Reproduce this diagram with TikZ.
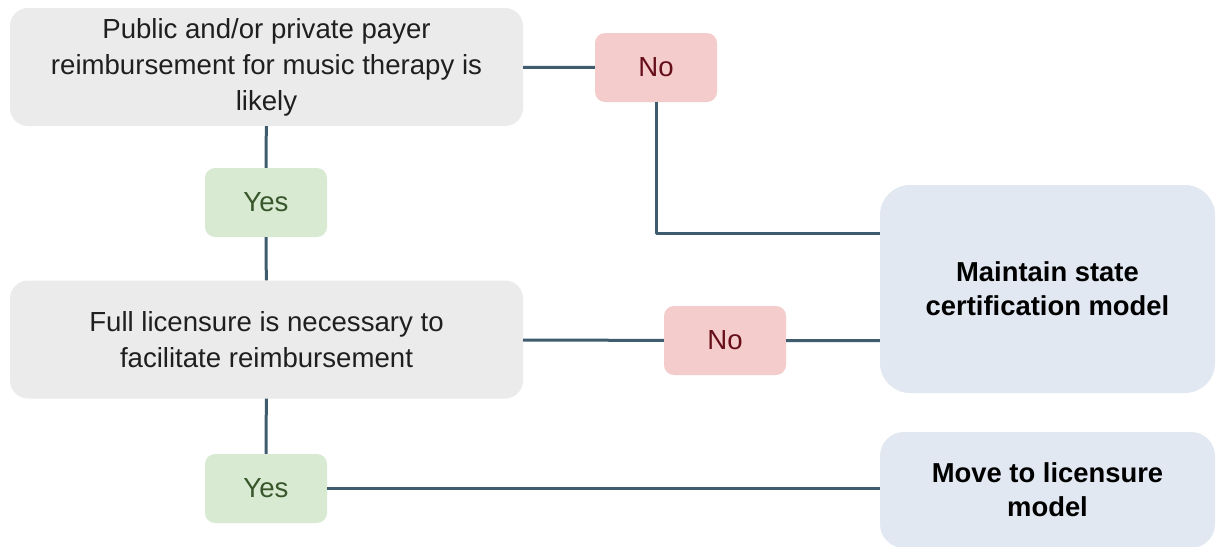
\documentclass[tikz,border=0pt]{standalone}
\usepackage{fontspec}
\setmainfont{Liberation Sans}
\definecolor{condgray}{HTML}{EBEBEB}
\definecolor{yesfill}{HTML}{D9EAD3}
\definecolor{yestext}{HTML}{38572A}
\definecolor{nofill}{HTML}{F4CCCC}
\definecolor{notext}{HTML}{660F1A}
\definecolor{resfill}{HTML}{E1E8F1}
\definecolor{linkc}{HTML}{3F5B6E}
\begin{document}
\begin{tikzpicture}[x=1pt,y=-1pt,line join=round,font=\fontsize{27.6}{36}\selectfont,
  cond/.style={fill=condgray,rounded corners=18pt,minimum width=513pt,minimum height=118pt,inner sep=0pt,align=center,text=black!88},
  yes/.style={fill=yesfill,rounded corners=10pt,minimum width=122pt,minimum height=69pt,inner sep=0pt,text=yestext},
  no/.style={fill=nofill,rounded corners=10pt,minimum width=122pt,minimum height=69pt,inner sep=0pt,text=notext},
  result/.style={fill=resfill,rounded corners=30pt,minimum width=335pt,inner sep=0pt,align=center,font=\fontsize{27.4}{34}\selectfont\bfseries},
  link/.style={draw=linkc,line width=3pt}]
\useasboundingbox[fill=white] (0,0) rectangle (1217,546);
% questions
\node[cond] (q1) at (266.5,67) {Public and/or private payer\\reimbursement for music therapy is\\likely};
\node[cond] (q2) at (266.5,339.5) {Full licensure is necessary to\\facilitate reimbursement};
% answers
\node[yes] (yes1) at (266,202.5) {Yes};
\node[yes] (yes2) at (266,488.5) {Yes};
\node[no] (no1) at (656,67.5) {No};
\node[no] (no2) at (725,340.5) {No};
% outcomes
\node[result,minimum height=208pt] (maint) at (1047.5,289) {Maintain state\\certification model};
\node[result,minimum height=116pt,rounded corners=24pt] (move) at (1047.5,490) {Move to licensure\\model};
% connectors
\draw[link] (q1) -- (no1);
\draw[link] (no1.south) |- ([yshift=56pt]maint.west);
\draw[link] (q1) -- (yes1) (yes1) -- (q2);
\draw[link] (q2) -- (no2) (no2) -- (no2 -| maint.west);
\draw[link] (q2) -- (yes2);
\draw[link] (yes2) -- (yes2 -| move.west);
\end{tikzpicture}
\end{document}
